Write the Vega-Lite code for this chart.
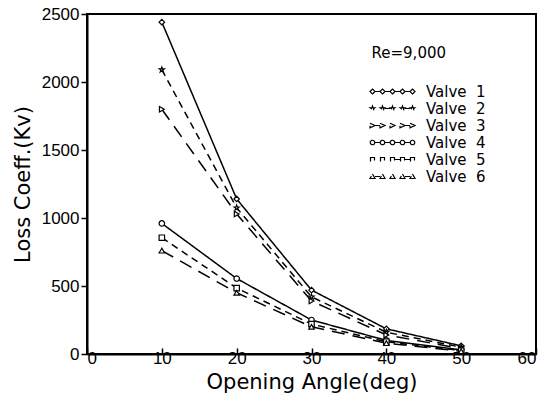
{
  "$schema": "https://vega.github.io/schema/vega-lite/v6.json",
  "autosize": {"type": "none"},
  "padding": {"left": 87, "top": 14, "right": 18, "bottom": 52},
  "width": 449,
  "height": 340,
  "background": "white",
  "config": {
    "view": {"stroke": "black", "strokeWidth": 2},
    "font": "Liberation Sans",
    "axis": {
      "grid": false,
      "domainColor": "black",
      "domainWidth": 2,
      "tickColor": "black",
      "tickWidth": 1.5,
      "labelColor": "black",
      "titleColor": "black",
      "labelFont": "Liberation Sans",
      "titleFont": "DejaVu Sans",
      "labelFontSize": 17,
      "titleFontSize": 21,
      "titleFontWeight": "normal"
    },
    "legend": {
      "title": null,
      "orient": "none",
      "legendX": 298,
      "legendY": 70,
      "padding": 0,
      "labelFontSize": 15,
      "labelColor": "black",
      "labelFont": "DejaVu Sans",
      "symbolStrokeColor": "black",
      "symbolFillColor": "white",
      "symbolSize": 40,
      "symbolStrokeWidth": 1.2,
      "rowPadding": 1,
      "labelOffset": 26
    }
  },
  "data": {
    "values": [
      {"Valve": "Valve 1", "angle": 10, "kv": 2440},
      {"Valve": "Valve 1", "angle": 20, "kv": 1140},
      {"Valve": "Valve 1", "angle": 30, "kv": 470},
      {"Valve": "Valve 1", "angle": 40, "kv": 185},
      {"Valve": "Valve 1", "angle": 50, "kv": 60},
      {"Valve": "Valve 2", "angle": 10, "kv": 2090},
      {"Valve": "Valve 2", "angle": 20, "kv": 1075},
      {"Valve": "Valve 2", "angle": 30, "kv": 420},
      {"Valve": "Valve 2", "angle": 40, "kv": 160},
      {"Valve": "Valve 2", "angle": 50, "kv": 50},
      {"Valve": "Valve 3", "angle": 10, "kv": 1800},
      {"Valve": "Valve 3", "angle": 20, "kv": 1030},
      {"Valve": "Valve 3", "angle": 30, "kv": 390},
      {"Valve": "Valve 3", "angle": 40, "kv": 140},
      {"Valve": "Valve 3", "angle": 50, "kv": 40},
      {"Valve": "Valve 4", "angle": 10, "kv": 960},
      {"Valve": "Valve 4", "angle": 20, "kv": 555},
      {"Valve": "Valve 4", "angle": 30, "kv": 250},
      {"Valve": "Valve 4", "angle": 40, "kv": 100},
      {"Valve": "Valve 4", "angle": 50, "kv": 30},
      {"Valve": "Valve 5", "angle": 10, "kv": 855},
      {"Valve": "Valve 5", "angle": 20, "kv": 485},
      {"Valve": "Valve 5", "angle": 30, "kv": 220},
      {"Valve": "Valve 5", "angle": 40, "kv": 90},
      {"Valve": "Valve 5", "angle": 50, "kv": 25},
      {"Valve": "Valve 6", "angle": 10, "kv": 760},
      {"Valve": "Valve 6", "angle": 20, "kv": 450},
      {"Valve": "Valve 6", "angle": 30, "kv": 200},
      {"Valve": "Valve 6", "angle": 40, "kv": 80},
      {"Valve": "Valve 6", "angle": 50, "kv": 20}
    ]
  },
  "layer": [
    {
      "mark": {"type": "line", "color": "black", "strokeWidth": 1.5},
      "encoding": {
        "x": {
          "field": "angle", "type": "quantitative",
          "scale": {"domain": [0, 60], "nice": false},
          "axis": {"values": [0, 10, 20, 30, 40, 50, 60], "title": "Opening Angle(deg)", "tickSize": -6, "labelPadding": 2, "titlePadding": 5}
        },
        "y": {
          "field": "kv", "type": "quantitative",
          "scale": {"domain": [0, 2500], "nice": false},
          "axis": {"values": [0, 500, 1000, 1500, 2000, 2500], "format": "d", "title": "Loss Coeff.(Kv)", "tickSize": 6, "labelPadding": 2, "titlePadding": 8}
        },
        "detail": {"field": "Valve"},
        "strokeDash": {
          "field": "Valve", "type": "nominal",
          "scale": {"domain": ["Valve 1", "Valve 2", "Valve 3", "Valve 4", "Valve 5", "Valve 6"],
                    "range": [[1, 0], [7, 5], [13, 8], [1, 0], [7, 5], [13, 8]]},
          "legend": {
            "labelExpr": "replace(datum.label, ' ', '\u00a0\u00a0')",
            "encode": {
              "symbols": {
                "update": {
                  "shape": {"signal": "datum.value == 'Valve 1' ? 'M-8,-1L-7,0L-8,1L-9,0ZM-4,-1L-3,0L-4,1L-5,0ZM0,-1L1,0L0,1L-1,0ZM4,-1L5,0L4,1L3,0ZM8,-1L9,0L8,1L7,0ZM-7,0L-5,0M-3,0L-1,0M1,0L3,0M5,0L7,0' : datum.value == 'Valve 2' ? 'M-8,-1l0.24,0.67l0.71,0.02l-0.57,0.43l0.21,0.69l-0.59,-0.41l-0.59,0.41l0.21,-0.69l-0.57,-0.43l0.71,-0.02ZM-4,-1l0.24,0.67l0.71,0.02l-0.57,0.43l0.21,0.69l-0.59,-0.41l-0.59,0.41l0.21,-0.69l-0.57,-0.43l0.71,-0.02ZM0,-1l0.24,0.67l0.71,0.02l-0.57,0.43l0.21,0.69l-0.59,-0.41l-0.59,0.41l0.21,-0.69l-0.57,-0.43l0.71,-0.02ZM4,-1l0.24,0.67l0.71,0.02l-0.57,0.43l0.21,0.69l-0.59,-0.41l-0.59,0.41l0.21,-0.69l-0.57,-0.43l0.71,-0.02ZM8,-1l0.24,0.67l0.71,0.02l-0.57,0.43l0.21,0.69l-0.59,-0.41l-0.59,0.41l0.21,-0.69l-0.57,-0.43l0.71,-0.02ZM-3,0L-1,0M5,0L7,0' : datum.value == 'Valve 3' ? 'M-9,-0.9L-7,0L-9,0.9ZM-5,-0.9L-3,0L-5,0.9ZM-1,-0.9L1,0L-1,0.9ZM3,-0.9L5,0L3,0.9ZM7,-0.9L9,0L7,0.9ZM-7,0L-5,0M5,0L7,0' : datum.value == 'Valve 4' ? 'M-8.9,0A0.9,0.9 0 1,0 -7.1,0A0.9,0.9 0 1,0 -8.9,0ZM-4.9,0A0.9,0.9 0 1,0 -3.1,0A0.9,0.9 0 1,0 -4.9,0ZM-0.9,0A0.9,0.9 0 1,0 0.9,0A0.9,0.9 0 1,0 -0.9,0ZM3.1,0A0.9,0.9 0 1,0 4.9,0A0.9,0.9 0 1,0 3.1,0ZM7.1,0A0.9,0.9 0 1,0 8.9,0A0.9,0.9 0 1,0 7.1,0ZM-7.1,0L-4.9,0M-3.1,0L-0.9,0M0.9,0L3.1,0M4.9,0L7.1,0' : datum.value == 'Valve 5' ? 'M-8.8,-0.8h1.6v1.6h-1.6ZM-4.8,-0.8h1.6v1.6h-1.6ZM-0.8,-0.8h1.6v1.6h-1.6ZM3.2,-0.8h1.6v1.6h-1.6ZM7.2,-0.8h1.6v1.6h-1.6ZM0.8,0L3.2,0M4.8,0L7.2,0' : 'M-8,-1L-7,0.8L-9,0.8ZM-4,-1L-3,0.8L-5,0.8ZM0,-1L1,0.8L-1,0.8ZM4,-1L5,0.8L3,0.8ZM8,-1L9,0.8L7,0.8ZM-7,0L-5,0M5,0L7,0'"},
                  "size": {"value": 25},
                  "stroke": {"value": "black"},
                  "strokeWidth": {"value": 1.2},
                  "strokeDash": {"value": [1, 0]},
                  "fill": {"value": "white"},
                  "opacity": {"value": 1},
                  "strokeOpacity": {"value": 1}
                }
              }
            }
          }
        }
      }
    },
    {
      "mark": {"type": "point", "color": "black", "filled": false, "size": 30, "strokeWidth": 1.2, "fill": "white", "opacity": 1},
      "encoding": {
        "x": {"field": "angle", "type": "quantitative"},
        "y": {"field": "kv", "type": "quantitative"},
        "shape": {
          "field": "Valve", "type": "nominal",
          "scale": {"domain": ["Valve 6", "Valve 5", "Valve 4", "Valve 3", "Valve 2", "Valve 1"],
                    "range": ["triangle-up", "square", "circle", "triangle-right", "M0,-1L0.24,-0.33L0.95,-0.31L0.38,0.12L0.59,0.81L0,0.4L-0.59,0.81L-0.38,0.12L-0.95,-0.31L-0.24,-0.33Z", "diamond"]},
          "legend": null
        }
      }
    },
    {
      "data": {"values": [{"angle": 43, "kv": 2213, "label": "Re=9,000"}]},
      "mark": {"type": "text", "fontSize": 15, "color": "black", "font": "DejaVu Sans"},
      "encoding": {
        "x": {"field": "angle", "type": "quantitative"},
        "y": {"field": "kv", "type": "quantitative"},
        "text": {"field": "label"}
      }
    }
  ]
}
